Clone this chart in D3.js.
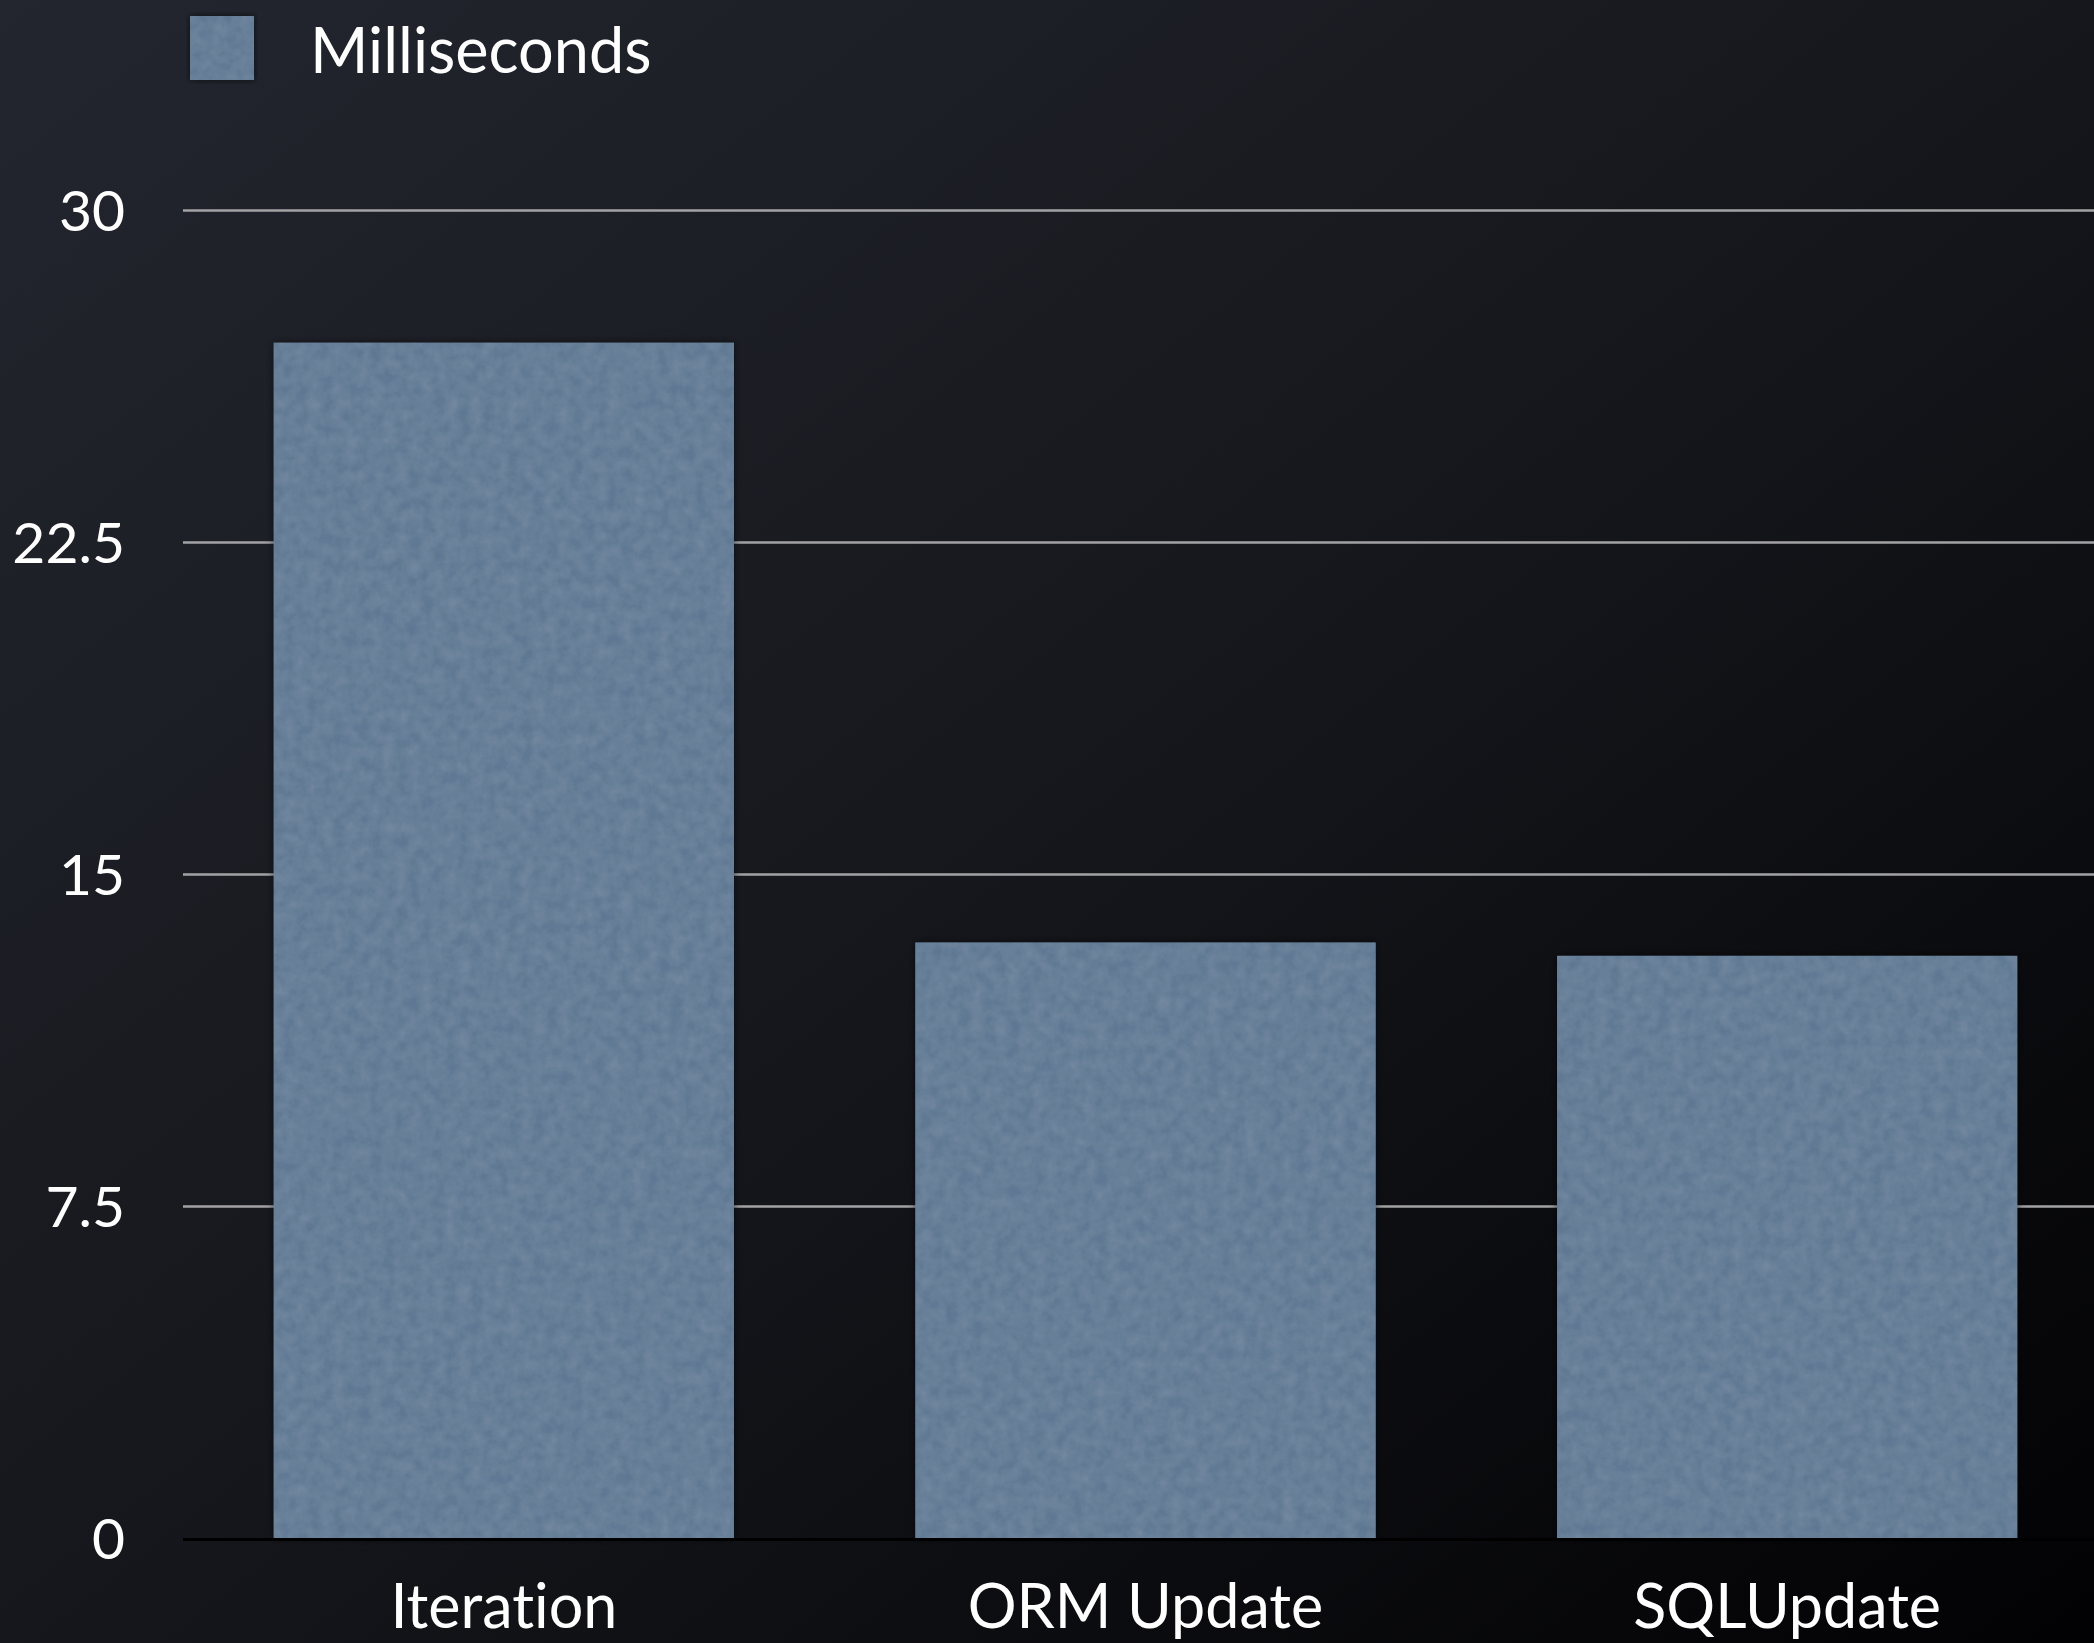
<!DOCTYPE html>
<html>
<head>
<meta charset="utf-8">
<script src="https://cdn.jsdelivr.net/npm/d3@7"></script>
<style>
  html, body { margin: 0; padding: 0; background: #101115; }
  svg { display: block; }
  text { font-family: Lato, 'Open Sans', sans-serif; fill: #ffffff; font-variant-ligatures: none; }
</style>
</head>
<body>
<svg id="chart" width="2094" height="1643"></svg>
<script>
'use strict'

// chart data
const categories = ['Iteration', 'ORM Update', 'SQLUpdate']
const milliseconds = [27.0, 13.45, 13.15]
const yTicks = [0, 7.5, 15, 22.5, 30]
const seriesName = 'Milliseconds'

const svg = d3.select('#chart'),
  W = +svg.attr('width'),
  H = +svg.attr('height'),
  margin = { top: 210, right: -14, bottom: 105, left: 183 },
  width = W - margin.left - margin.right,
  height = H - margin.top - margin.bottom

const defs = svg.append('defs')

// dark diagonal background
const bg = defs.append('linearGradient')
  .attr('id', 'bg')
  .attr('x1', 0).attr('y1', 0).attr('x2', 1).attr('y2', 1)
bg.append('stop').attr('offset', '0%').attr('stop-color', '#23262f')
bg.append('stop').attr('offset', '50%').attr('stop-color', '#16171c')
bg.append('stop').attr('offset', '100%').attr('stop-color', '#020204')

// grainy bar texture + soft shadow
const grain = defs.append('filter').attr('id', 'grain')
  .attr('x', '-5%').attr('y', '-5%').attr('width', '110%').attr('height', '110%')
grain.append('feTurbulence')
  .attr('type', 'fractalNoise').attr('baseFrequency', 0.08)
  .attr('numOctaves', 3).attr('seed', 4).attr('result', 'noise')
grain.append('feColorMatrix').attr('in', 'noise').attr('type', 'matrix')
  .attr('values', '0 0 0 0 0.47  0 0 0 0 0.57  0 0 0 0 0.68  0 0 0 0.22 -0.04')
  .attr('result', 'tint')
grain.append('feComposite').attr('in', 'tint').attr('in2', 'SourceGraphic')
  .attr('operator', 'atop').attr('result', 'tex')
grain.append('feGaussianBlur').attr('in', 'SourceAlpha').attr('stdDeviation', 4).attr('result', 'blur')
grain.append('feComponentTransfer').attr('in', 'blur').attr('result', 'shadow')
  .append('feFuncA').attr('type', 'linear').attr('slope', 0.6)
const merge = grain.append('feMerge')
merge.append('feMergeNode').attr('in', 'shadow')
merge.append('feMergeNode').attr('in', 'SourceGraphic')
merge.append('feMergeNode').attr('in', 'tex')

svg.append('rect')
  .attr('width', W).attr('height', H)
  .attr('fill', 'url(#bg)')

const x = d3.scaleBand()
  .domain(categories)
  .range([0, width])
  .paddingInner(0.283)
  .paddingOuter(0.1415)

const y = d3.scaleLinear()
  .domain([0, 30])
  .range([height, 0])

const g = svg.append('g')
  .attr('transform', 'translate(' + margin.left + ',' + margin.top + ')')

// grid lines
g.append('g')
  .attr('class', 'grid')
  .call(d3.axisLeft(y).tickValues(yTicks.filter(d => d > 0)).tickSize(-width).tickFormat(''))
  .call(s => s.select('.domain').remove())
  .selectAll('line')
  .attr('stroke', '#a3a3a6')
  .attr('stroke-width', 2.5)

// y labels
g.append('g')
  .attr('class', 'axis axis--y')
  .call(d3.axisLeft(y).tickValues(yTicks).tickSize(0).tickPadding(58).tickFormat(d3.format('')))
  .call(s => s.select('.domain').remove())
  .selectAll('text')
  .attr('fill', '#ffffff')
  .style('font-size', '57px')
  .style('font-family', 'Lato, sans-serif')
  .attr('dy', '0.36em')

// bars
g.selectAll('.bar')
  .data(milliseconds)
  .enter().append('rect')
  .attr('class', 'bar')
  .attr('x', (d, i) => x(categories[i]))
  .attr('y', d => y(d))
  .attr('width', x.bandwidth())
  .attr('height', d => height - y(d))
  .attr('fill', '#5e7792')
  .attr('filter', 'url(#grain)')

// zero line
g.append('line')
  .attr('x1', 0).attr('x2', width)
  .attr('y1', y(0) + 1.5).attr('y2', y(0) + 1.5)
  .attr('stroke', '#000000')
  .attr('stroke-width', 3)

// x labels
g.append('g')
  .attr('class', 'axis axis--x')
  .attr('transform', 'translate(0,' + height + ')')
  .call(d3.axisBottom(x).tickSize(0).tickPadding(47))
  .call(s => s.select('.domain').remove())
  .selectAll('text')
  .attr('fill', '#ffffff')
  .style('font-size', '61px')
  .style('font-family', 'Lato, sans-serif')

// legend
const legend = svg.append('g').attr('class', 'legend')
legend.append('rect')
  .attr('x', 190).attr('y', 16)
  .attr('width', 64).attr('height', 64)
  .attr('fill', '#5e7792')
  .attr('filter', 'url(#grain)')
legend.append('text')
  .attr('x', 310).attr('y', 73)
  .style('font-size', '63px')
  .text(seriesName)
</script>
</body>
</html>
